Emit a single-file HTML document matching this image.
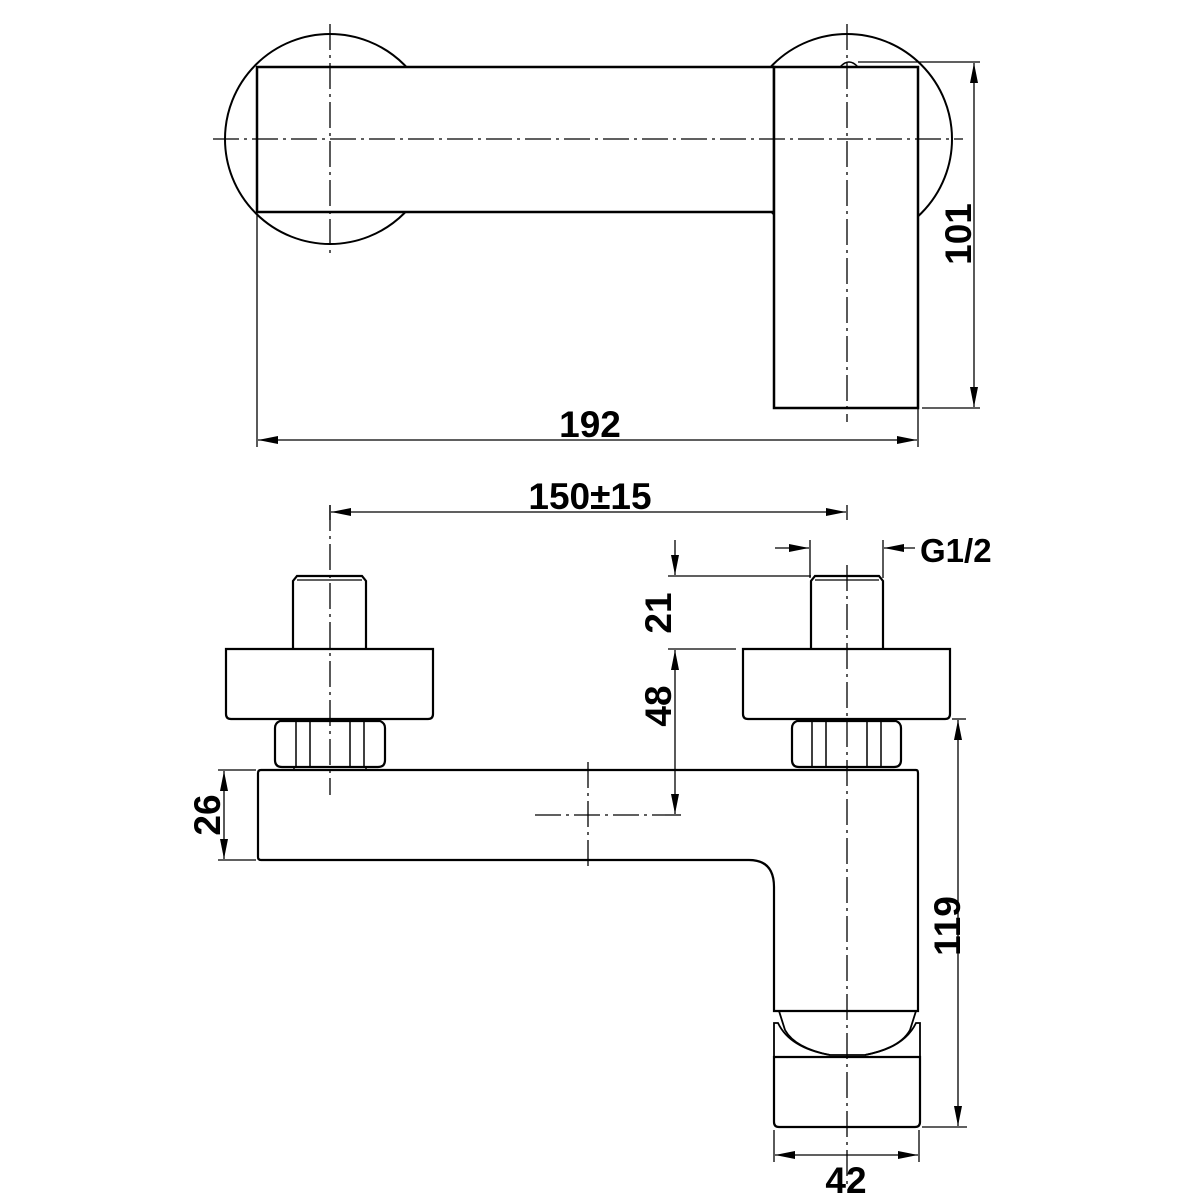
<!DOCTYPE html>
<html><head><meta charset="utf-8"><style>
html,body{margin:0;padding:0;background:#fff;}
svg{display:block;}
text{font-family:"Liberation Sans",sans-serif;font-weight:bold;fill:#000;}
</style></head><body>
<svg width="1200" height="1200" viewBox="0 0 1200 1200" xmlns="http://www.w3.org/2000/svg">
<defs>
<marker id="a" viewBox="0 0 20 8" refX="20" refY="4" markerWidth="20" markerHeight="8" markerUnits="userSpaceOnUse" orient="auto-start-reverse">
<path d="M0,0 L20,4 L0,8 Z" fill="#000"/></marker>
</defs>
<g fill="none" stroke="#000">
<!-- TOP VIEW -->
<circle cx="330" cy="139" r="105" stroke-width="2"/>
<circle cx="847" cy="139" r="105" stroke-width="2"/>
<rect x="257" y="67" width="517" height="145" fill="#fff" stroke-width="2.5"/>
<path d="M840,67 Q849,57 858,67" stroke-width="1.5" fill="#fff"/>
<rect x="774" y="67" width="144" height="341" fill="#fff" stroke-width="2.5"/>
<g stroke-width="1.3" stroke-dasharray="26 5 3 5">
<line x1="213" y1="139" x2="963" y2="139"/>
<line x1="330" y1="24" x2="330" y2="255"/>
<line x1="847" y1="24" x2="847" y2="422"/>
</g>
<g stroke-width="1.3">
<line x1="257" y1="212" x2="257" y2="447"/>
<line x1="918" y1="408" x2="918" y2="447"/>
<line x1="258" y1="440" x2="917" y2="440" marker-start="url(#a)" marker-end="url(#a)"/>
<line x1="858" y1="62" x2="980" y2="62"/>
<line x1="922" y1="408" x2="980" y2="408"/>
<line x1="974" y1="63" x2="974" y2="407" marker-start="url(#a)" marker-end="url(#a)"/>
</g>

<!-- BOTTOM VIEW -->
<g stroke-width="2.2">
<path d="M293,649 L293,581 L297,576 L362,576 L366,581 L366,649"/>
<line x1="297" y1="580" x2="362" y2="580" stroke-width="1.2"/>
<path d="M226,649 L433,649 L433,714 Q433,719 428,719 L231,719 Q226,719 226,714 Z"/>
<path d="M280,721 L380,721 Q385,723 385,728 L385,760 Q385,767 378,767 L282,767 Q275,767 275,760 L275,728 Q275,723 280,721 Z"/>
<line x1="296" y1="721" x2="296" y2="767" stroke-width="1.5"/>
<line x1="310" y1="721" x2="310" y2="767" stroke-width="1.5"/>
<line x1="350" y1="721" x2="350" y2="767" stroke-width="1.5"/>
<line x1="364" y1="721" x2="364" y2="767" stroke-width="1.5"/>
<line x1="294" y1="767" x2="294" y2="770" stroke-width="1.5"/>
<line x1="366" y1="767" x2="366" y2="770" stroke-width="1.5"/>
<path d="M811,649 L811,581 L815,576 L879,576 L883,581 L883,649"/>
<line x1="815" y1="580" x2="879" y2="580" stroke-width="1.2"/>
<path d="M743,649 L950,649 L950,714 Q950,719 945,719 L748,719 Q743,719 743,714 Z"/>
<path d="M797,721 L896,721 Q901,723 901,728 L901,760 Q901,767 894,767 L799,767 Q792,767 792,760 L792,728 Q792,723 797,721 Z"/>
<line x1="812" y1="721" x2="812" y2="767" stroke-width="1.5"/>
<line x1="826" y1="721" x2="826" y2="767" stroke-width="1.5"/>
<line x1="867" y1="721" x2="867" y2="767" stroke-width="1.5"/>
<line x1="881" y1="721" x2="881" y2="767" stroke-width="1.5"/>
<path d="M261,770 L916,770 Q918,770 918,773 L918,1011 L774,1011 L774,887 Q774,860 749,860 L261,860 Q258,860 258,857 L258,773 Q258,770 261,770 Z"/>
<path d="M779,1011 L785,1030 Q795,1048 830,1055 L865,1055 Q900,1048 910,1030 L916,1011" stroke-width="1.8"/>
<path d="M774,1057 L774,1023 L778,1023 Q790,1048 830,1055" stroke-width="1.8"/>
<path d="M920,1057 L920,1023 L916,1023 Q904,1048 865,1055" stroke-width="1.8"/>
<path d="M774,1057 L920,1057 L920,1122 Q920,1127 915,1127 L779,1127 Q774,1127 774,1122 Z"/>
</g>
<g stroke-width="1.3" stroke-dasharray="26 5 3 5">
<line x1="330" y1="505" x2="330" y2="795"/>
<line x1="847" y1="565" x2="847" y2="1185"/>
<line x1="588" y1="762" x2="588" y2="868"/>
<line x1="535" y1="815" x2="665" y2="815"/>
</g>
<g stroke-width="1.3">
<line x1="330" y1="505" x2="330" y2="520"/>
<line x1="847" y1="505" x2="847" y2="520"/>
<line x1="331" y1="512" x2="846" y2="512" marker-start="url(#a)" marker-end="url(#a)"/>
<line x1="810" y1="540" x2="810" y2="578"/>
<line x1="883" y1="540" x2="883" y2="578"/>
<line x1="775" y1="548" x2="809" y2="548" marker-end="url(#a)"/>
<line x1="915" y1="548" x2="884" y2="548" marker-end="url(#a)"/>
<line x1="668" y1="576" x2="811" y2="576"/>
<line x1="668" y1="649" x2="736" y2="649"/>
<line x1="665" y1="815" x2="681" y2="815"/>
<line x1="675" y1="540" x2="675" y2="575" marker-end="url(#a)"/>
<line x1="675" y1="650" x2="675" y2="814" marker-start="url(#a)" marker-end="url(#a)"/>
<line x1="218" y1="770" x2="256" y2="770"/>
<line x1="218" y1="860" x2="256" y2="860"/>
<line x1="224" y1="771" x2="224" y2="859" marker-start="url(#a)" marker-end="url(#a)"/>
<line x1="952" y1="719" x2="966" y2="719"/>
<line x1="922" y1="1127" x2="967" y2="1127"/>
<line x1="958" y1="720" x2="958" y2="1126" marker-start="url(#a)" marker-end="url(#a)"/>
<line x1="774" y1="1130" x2="774" y2="1162"/>
<line x1="919" y1="1130" x2="919" y2="1162"/>
<line x1="775" y1="1155" x2="918" y2="1155" marker-start="url(#a)" marker-end="url(#a)"/>
</g>
</g>
<g font-size="37">
<text x="590" y="437" text-anchor="middle">192</text>
<text transform="translate(971,234) rotate(-90)" text-anchor="middle">101</text>
<text x="590" y="509" text-anchor="middle">150±15</text>
<text x="920" y="562" font-size="33">G1/2</text>
<text transform="translate(671,613) rotate(-90)" text-anchor="middle">21</text>
<text transform="translate(671,706) rotate(-90)" text-anchor="middle">48</text>
<text transform="translate(220,815) rotate(-90)" text-anchor="middle">26</text>
<text transform="translate(960,926) rotate(-90)" text-anchor="middle">119</text>
<text x="846" y="1193" text-anchor="middle">42</text>
</g>
</svg>
</body></html>
